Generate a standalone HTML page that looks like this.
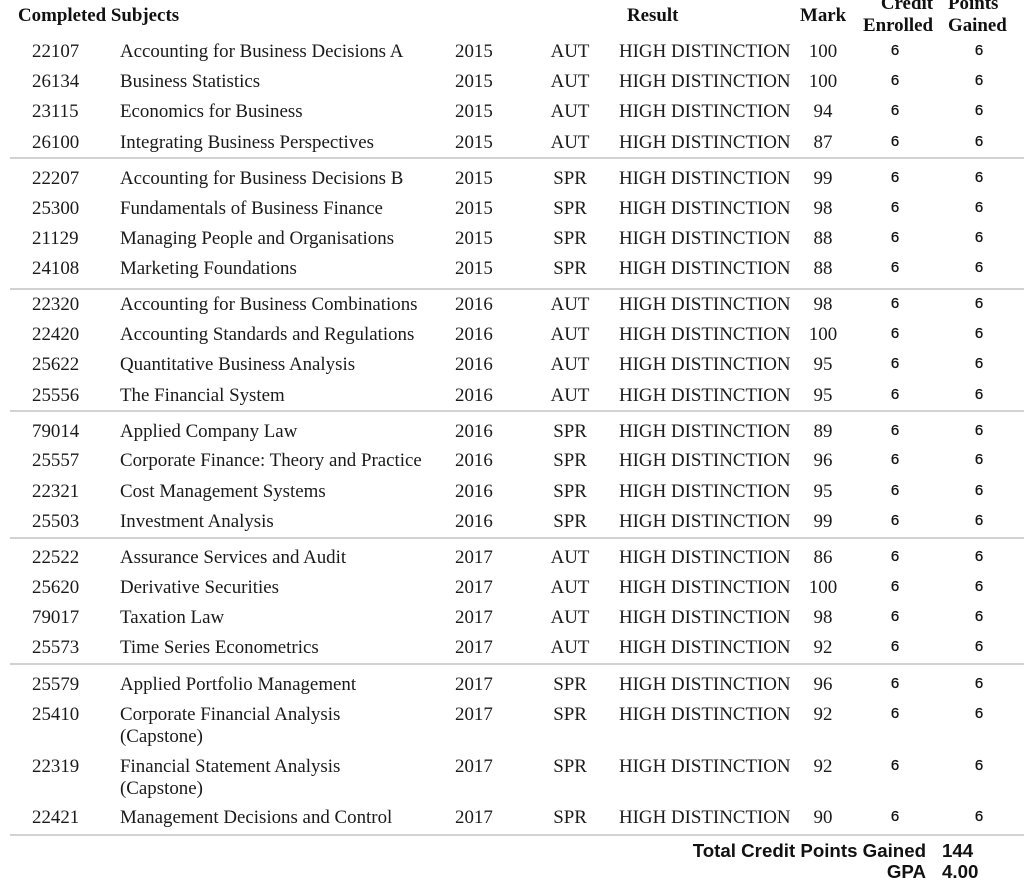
<!DOCTYPE html>
<html><head><meta charset="utf-8">
<style>
html,body{margin:0;padding:0;background:#fff;}
body{width:1024px;height:889px;position:relative;overflow:hidden;font-family:"Liberation Serif","Times New Roman",serif;font-size:18.9px;color:#1a1a1a;}
.a{position:absolute;white-space:nowrap;line-height:22px;height:22px;}
.r{position:absolute;left:0;width:1024px;height:22px;}
.r span{position:absolute;top:0;white-space:nowrap;line-height:22px;}
.c{left:32px}
.t{left:120px}
.y{left:455px}
.s{left:530px;width:80px;text-align:center}
.h{left:619px}
.m{left:793px;width:60px;text-align:center}
.r span.e,.r span.p{font-family:"Liberation Sans",Arial,sans-serif;font-size:15px;color:#111;width:40px;text-align:center;top:-1px;-webkit-text-stroke:0.3px #111;}
.e{left:875px}
.p{left:959px}
.hd{font-weight:bold;color:#111;}
.ln{position:absolute;left:10px;width:1014px;height:2px;background:#d2d2d2;}
.tot{position:absolute;font-family:"Liberation Sans",Arial,sans-serif;font-weight:bold;color:#111;font-size:18.7px;line-height:22px;white-space:nowrap;}
</style></head><body>

<div class="a hd" style="left:18px;top:5px">Completed Subjects</div>
<div class="a hd" style="left:627px;top:5px">Result</div>
<div class="a hd" style="left:800px;top:5px">Mark</div>
<div class="a hd" style="right:91px;top:-7px;text-align:right">Credit</div>
<div class="a hd" style="right:91px;top:15px;text-align:right">Enrolled</div>
<div class="a hd" style="left:948px;top:-7px">Points</div>
<div class="a hd" style="left:948px;top:15px">Gained</div>

<div class="r" style="top:41px"><span class="c">22107</span><span class="t">Accounting for Business Decisions A</span><span class="y">2015</span><span class="s">AUT</span><span class="h">HIGH DISTINCTION</span><span class="m">100</span><span class="e">6</span><span class="p">6</span></div>
<div class="r" style="top:71px"><span class="c">26134</span><span class="t">Business Statistics</span><span class="y">2015</span><span class="s">AUT</span><span class="h">HIGH DISTINCTION</span><span class="m">100</span><span class="e">6</span><span class="p">6</span></div>
<div class="r" style="top:101px"><span class="c">23115</span><span class="t">Economics for Business</span><span class="y">2015</span><span class="s">AUT</span><span class="h">HIGH DISTINCTION</span><span class="m">94</span><span class="e">6</span><span class="p">6</span></div>
<div class="r" style="top:132px"><span class="c">26100</span><span class="t">Integrating Business Perspectives</span><span class="y">2015</span><span class="s">AUT</span><span class="h">HIGH DISTINCTION</span><span class="m">87</span><span class="e">6</span><span class="p">6</span></div>
<div class="ln" style="top:157px"></div>

<div class="r" style="top:168px"><span class="c">22207</span><span class="t">Accounting for Business Decisions B</span><span class="y">2015</span><span class="s">SPR</span><span class="h">HIGH DISTINCTION</span><span class="m">99</span><span class="e">6</span><span class="p">6</span></div>
<div class="r" style="top:198px"><span class="c">25300</span><span class="t">Fundamentals of Business Finance</span><span class="y">2015</span><span class="s">SPR</span><span class="h">HIGH DISTINCTION</span><span class="m">98</span><span class="e">6</span><span class="p">6</span></div>
<div class="r" style="top:228px"><span class="c">21129</span><span class="t">Managing People and Organisations</span><span class="y">2015</span><span class="s">SPR</span><span class="h">HIGH DISTINCTION</span><span class="m">88</span><span class="e">6</span><span class="p">6</span></div>
<div class="r" style="top:258px"><span class="c">24108</span><span class="t">Marketing Foundations</span><span class="y">2015</span><span class="s">SPR</span><span class="h">HIGH DISTINCTION</span><span class="m">88</span><span class="e">6</span><span class="p">6</span></div>
<div class="ln" style="top:288px"></div>

<div class="r" style="top:294px"><span class="c">22320</span><span class="t">Accounting for Business Combinations</span><span class="y">2016</span><span class="s">AUT</span><span class="h">HIGH DISTINCTION</span><span class="m">98</span><span class="e">6</span><span class="p">6</span></div>
<div class="r" style="top:324px"><span class="c">22420</span><span class="t">Accounting Standards and Regulations</span><span class="y">2016</span><span class="s">AUT</span><span class="h">HIGH DISTINCTION</span><span class="m">100</span><span class="e">6</span><span class="p">6</span></div>
<div class="r" style="top:354px"><span class="c">25622</span><span class="t">Quantitative Business Analysis</span><span class="y">2016</span><span class="s">AUT</span><span class="h">HIGH DISTINCTION</span><span class="m">95</span><span class="e">6</span><span class="p">6</span></div>
<div class="r" style="top:385px"><span class="c">25556</span><span class="t">The Financial System</span><span class="y">2016</span><span class="s">AUT</span><span class="h">HIGH DISTINCTION</span><span class="m">95</span><span class="e">6</span><span class="p">6</span></div>
<div class="ln" style="top:410px"></div>

<div class="r" style="top:421px"><span class="c">79014</span><span class="t">Applied Company Law</span><span class="y">2016</span><span class="s">SPR</span><span class="h">HIGH DISTINCTION</span><span class="m">89</span><span class="e">6</span><span class="p">6</span></div>
<div class="r" style="top:450px"><span class="c">25557</span><span class="t">Corporate Finance: Theory and Practice</span><span class="y">2016</span><span class="s">SPR</span><span class="h">HIGH DISTINCTION</span><span class="m">96</span><span class="e">6</span><span class="p">6</span></div>
<div class="r" style="top:481px"><span class="c">22321</span><span class="t">Cost Management Systems</span><span class="y">2016</span><span class="s">SPR</span><span class="h">HIGH DISTINCTION</span><span class="m">95</span><span class="e">6</span><span class="p">6</span></div>
<div class="r" style="top:511px"><span class="c">25503</span><span class="t">Investment Analysis</span><span class="y">2016</span><span class="s">SPR</span><span class="h">HIGH DISTINCTION</span><span class="m">99</span><span class="e">6</span><span class="p">6</span></div>
<div class="ln" style="top:537px"></div>

<div class="r" style="top:547px"><span class="c">22522</span><span class="t">Assurance Services and Audit</span><span class="y">2017</span><span class="s">AUT</span><span class="h">HIGH DISTINCTION</span><span class="m">86</span><span class="e">6</span><span class="p">6</span></div>
<div class="r" style="top:577px"><span class="c">25620</span><span class="t">Derivative Securities</span><span class="y">2017</span><span class="s">AUT</span><span class="h">HIGH DISTINCTION</span><span class="m">100</span><span class="e">6</span><span class="p">6</span></div>
<div class="r" style="top:607px"><span class="c">79017</span><span class="t">Taxation Law</span><span class="y">2017</span><span class="s">AUT</span><span class="h">HIGH DISTINCTION</span><span class="m">98</span><span class="e">6</span><span class="p">6</span></div>
<div class="r" style="top:637px"><span class="c">25573</span><span class="t">Time Series Econometrics</span><span class="y">2017</span><span class="s">AUT</span><span class="h">HIGH DISTINCTION</span><span class="m">92</span><span class="e">6</span><span class="p">6</span></div>
<div class="ln" style="top:663px"></div>

<div class="r" style="top:674px"><span class="c">25579</span><span class="t">Applied Portfolio Management</span><span class="y">2017</span><span class="s">SPR</span><span class="h">HIGH DISTINCTION</span><span class="m">96</span><span class="e">6</span><span class="p">6</span></div>
<div class="r" style="top:704px"><span class="c">25410</span><span class="t">Corporate Financial Analysis</span><span class="y">2017</span><span class="s">SPR</span><span class="h">HIGH DISTINCTION</span><span class="m">92</span><span class="e">6</span><span class="p">6</span></div>
<div class="a" style="left:120px;top:726px">(Capstone)</div>
<div class="r" style="top:756px"><span class="c">22319</span><span class="t">Financial Statement Analysis</span><span class="y">2017</span><span class="s">SPR</span><span class="h">HIGH DISTINCTION</span><span class="m">92</span><span class="e">6</span><span class="p">6</span></div>
<div class="a" style="left:120px;top:778px">(Capstone)</div>
<div class="r" style="top:807px"><span class="c">22421</span><span class="t">Management Decisions and Control</span><span class="y">2017</span><span class="s">SPR</span><span class="h">HIGH DISTINCTION</span><span class="m">90</span><span class="e">6</span><span class="p">6</span></div>
<div class="ln" style="top:834px"></div>

<div class="tot" style="right:98px;top:840px;text-align:right">Total Credit Points Gained</div>
<div class="tot" style="left:942px;top:840px">144</div>
<div class="tot" style="right:98px;top:861px;text-align:right">GPA</div>
<div class="tot" style="left:942px;top:861px">4.00</div>

</body></html>
